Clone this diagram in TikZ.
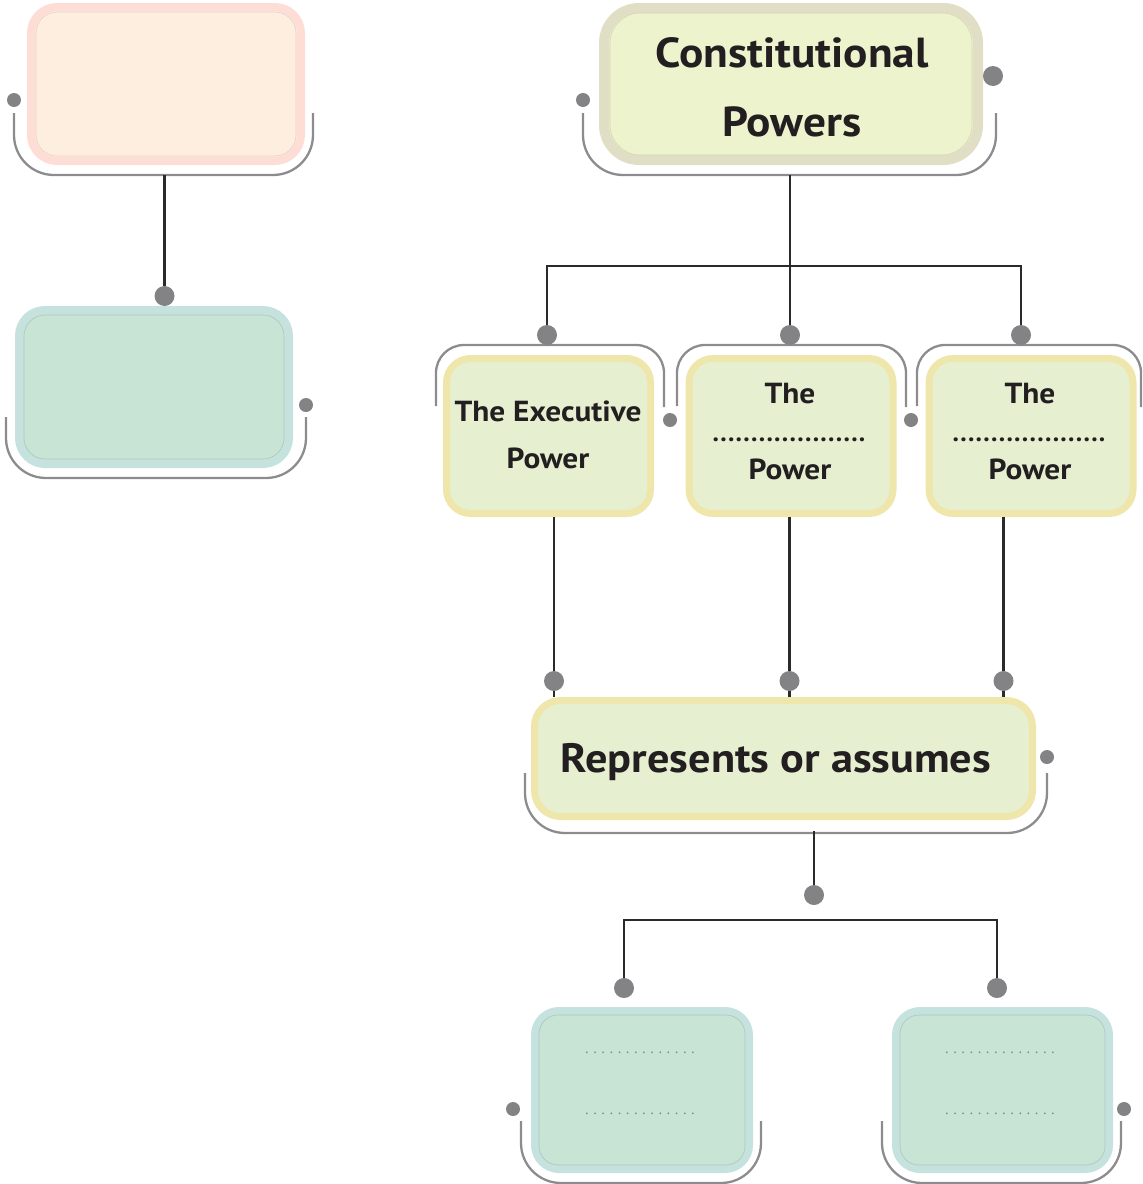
\documentclass[tikz,border=0pt]{standalone}
\usepackage{fontspec}
\setmainfont{PT Sans}
\newfontfamily\dgfont[FakeStretch=1.08]{PT Sans}
\definecolor{pinkB}{HTML}{FDDDD6}
\definecolor{pinkF}{HTML}{FEEEDF}
\definecolor{pinkL}{HTML}{E3CFC6}
\definecolor{greenB}{HTML}{C6E2DE}
\definecolor{greenF}{HTML}{C8E4D4}
\definecolor{greenL}{HTML}{A9C9BB}
\definecolor{consB}{HTML}{E0DEC5}
\definecolor{consF}{HTML}{EDF3CD}
\definecolor{consL}{HTML}{D3D6B2}
\definecolor{yelB}{HTML}{EEE6AA}
\definecolor{yelF}{HTML}{E6F0D0}
\definecolor{dotc}{HTML}{838386}
\definecolor{brkc}{HTML}{8C8C8F}
\definecolor{linec}{HTML}{2A2A2A}
\definecolor{txtc}{HTML}{231F20}
\newcommand\dotrow[2]{\hbox to #1{\xleaders\hbox to #2{\hss.\hss}\hfill}}
\tikzset{
  conn/.style={draw=linec, line width=2.5pt},
  brk/.style={draw=brkc, line width=2.3pt, rounded corners=40pt},
  brks/.style={draw=brkc, line width=2.3pt, rounded corners=28pt},
  bdot/.style={circle, fill=dotc, inner sep=0pt, minimum size=20pt},
  sdot/.style={circle, fill=dotc, inner sep=0pt, minimum size=14pt},
  box/.style={rectangle, line width=8pt, outer sep=4pt, inner sep=0pt},
  ybox/.style={rectangle, draw=yelB, fill=yelF, line width=7pt, outer sep=3.5pt, inner sep=0pt, rounded corners=24pt},
  inl/.style={line width=0.6pt},
  btxt/.style={font=\dgfont\bfseries\fontsize{41}{41}\selectfont, text=txtc, inner sep=0pt},
  ctxt/.style={font=\dgfont\bfseries\fontsize{42}{42}\selectfont, text=txtc, inner sep=0pt},
  mtxt/.style={font=\dgfont\bfseries\fontsize{29}{29}\selectfont, text=txtc, inner sep=0pt},
  mdots/.style={font=\bfseries\fontsize{26}{26}\selectfont, text=txtc, inner sep=0pt},
  gdots/.style={font=\fontsize{15}{15}\selectfont, text=dotc, inner sep=0pt}
}
\begin{document}
\begin{tikzpicture}[x=1pt,y=-1pt]
\useasboundingbox (0,0) rectangle (1143,1184);
% ---------- boxes ----------
\node[box, draw=pinkB, fill=pinkF, rounded corners=26pt, minimum width=270pt, minimum height=154pt] (b1) at (166,84) {};
\draw[inl, draw=pinkL, rounded corners=21pt] ([shift={(9pt,-9pt)}]b1.north west) rectangle ([shift={(-9pt,9pt)}]b1.south east);

\node[box, draw=greenB, fill=greenF, rounded corners=26pt, minimum width=270pt, minimum height=154pt] (b2) at (154,387) {};
\draw[inl, draw=greenL, rounded corners=21pt] ([shift={(9pt,-9pt)}]b2.north west) rectangle ([shift={(-9pt,9pt)}]b2.south east);

\node[box, draw=consB, fill=consF, line width=10pt, outer sep=5pt, rounded corners=35pt, minimum width=374pt, minimum height=152pt] (b3) at (791,84) {};
\draw[inl, draw=consL, rounded corners=30pt] ([shift={(11pt,-10pt)}]b3.north west) rectangle ([shift={(-11pt,10pt)}]b3.south east);
\node[ctxt, anchor=base] (b3a) at (792,67) {Constitutional};
\node[ctxt, anchor=base] (b3b) at (792,136) {Powers};

\node[ybox, minimum width=204pt, minimum height=155pt] (e1) at (548.5,436) {};
\node[ybox, minimum width=204pt, minimum height=155pt] (e2) at (791,436) {};
\node[ybox, minimum width=204pt, minimum height=155pt] (e3) at (1031,436) {};
\node[mtxt, anchor=base] (e1a) at (548,421) {The Executive};
\node[mtxt, anchor=base] (e1b) at (548,468) {Power};
\node[mtxt, anchor=base] (e2a) at (790,403) {The};
\node[mdots] (e2d) at (789,440) {\dotrow{154.1pt}{7.7pt}};
\node[mtxt, anchor=base] (e2b) at (790,479) {Power};
\node[mtxt, anchor=base] (e3a) at (1030,403) {The};
\node[mdots] (e3d) at (1029,440) {\dotrow{154.1pt}{7.7pt}};
\node[mtxt, anchor=base] (e3b) at (1030,479) {Power};

\node[ybox, rounded corners=26pt, minimum width=498pt, minimum height=116pt] (rep) at (783.5,758.5) {};
\node[btxt, anchor=base] (repa) at (776,772) {Represents or assumes};

\node[box, draw=greenB, fill=greenF, rounded corners=24pt, minimum width=214pt, minimum height=158pt] (g1) at (642,1090) {};
\draw[inl, draw=greenL, rounded corners=19pt] ([shift={(8pt,-8pt)}]g1.north west) rectangle ([shift={(-8pt,8pt)}]g1.south east);
\node[box, draw=greenB, fill=greenF, rounded corners=24pt, minimum width=213pt, minimum height=158pt] (g2) at (1002.5,1090) {};
\draw[inl, draw=greenL, rounded corners=19pt] ([shift={(8pt,-8pt)}]g2.north west) rectangle ([shift={(-8pt,8pt)}]g2.south east);
\node[gdots] (g1a) at (640,1053) {\dotrow{114.2pt}{8.15pt}};
\node[gdots] (g1b) at (640,1114) {\dotrow{114.2pt}{8.15pt}};
\node[gdots] (g2a) at (1000,1053) {\dotrow{114.2pt}{8.15pt}};
\node[gdots] (g2b) at (1000,1114) {\dotrow{114.2pt}{8.15pt}};

% ---------- brackets ----------
\draw[brk] (14,113) -- (14,175) -- (313,175) -- (313,113);
\draw[brk] (6,417) -- (6,478) -- (306,478) -- (306,417);
\draw[brk] (583,113) -- (583,175) -- (996,175) -- (996,113);
\draw[brks] (436,406) -- (436,345) -- (664,345) -- (664,407);
\draw[brks] (677,406) -- (677,345) -- (906,345) -- (906,407);
\draw[brks] (917,406) -- (917,345) -- (1141,345) -- (1141,407);
\draw[brk] (525,773) -- (525,833) -- (1047,833) -- (1047,773);
\draw[brk] (521,1121) -- (521,1183) -- (761,1183) -- (761,1121);
\draw[brk] (882,1121) -- (882,1183) -- (1121,1183) -- (1121,1121);

% ---------- connector points ----------
\coordinate (b1s) at (164.5,175);
\coordinate (b3s) at (790,175);
\coordinate (jt) at (790,266);
\coordinate (e1s) at (554,517);
\coordinate (e2s) at (789.5,517);
\coordinate (e3s) at (1003.5,517);
\coordinate (reps) at (814,831);
\coordinate (jb) at (814,920);

% ---------- dots ----------
\node[sdot] (s1) at (14,100) {};
\node[bdot] (d2) at (164.5,296) {};
\node[sdot] (s2) at (306,405) {};
\node[sdot] (s3) at (583,100) {};
\node[bdot] (s4) at (993,76) {};
\node[bdot] (dm1) at (547,335) {};
\node[bdot] (dm2) at (790,335) {};
\node[bdot] (dm3) at (1021,335) {};
\node[sdot] (s5) at (670,420) {};
\node[sdot] (s6) at (911,420) {};
\node[bdot] (de1) at (554,681) {};
\node[bdot] (de2) at (789.5,681) {};
\node[bdot] (de3) at (1003.5,681) {};
\node[sdot] (s7) at (1047,757) {};
\node[bdot] (dr) at (814,895) {};
\node[bdot] (dg1) at (624,988) {};
\node[bdot] (dg2) at (997,988) {};
\node[sdot] (s8) at (513,1109) {};
\node[sdot] (s9) at (1124,1109) {};

% ---------- connectors ----------
\draw[conn] (b1s) -- (d2.north);
\draw[conn] (b3s) -- (dm2.north);
\draw[conn] (dm1.north) -- (dm1 |- jt) -- (dm3 |- jt) -- (dm3.north);
\draw[conn] (e1s) -- (de1.north);
\draw[conn] (de1.south) -- (de1 |- rep.north);
\draw[conn] (e2s) -- (de2.north);
\draw[conn] (de2.south) -- (de2 |- rep.north);
\draw[conn] (e3s) -- (de3.north);
\draw[conn] (de3.south) -- (de3 |- rep.north);
\draw[conn] (reps) -- (dr.north);
\draw[conn] (dg1.north) -- (dg1 |- jb) -- (dg2 |- jb) -- (dg2.north);
\end{tikzpicture}
\end{document}
